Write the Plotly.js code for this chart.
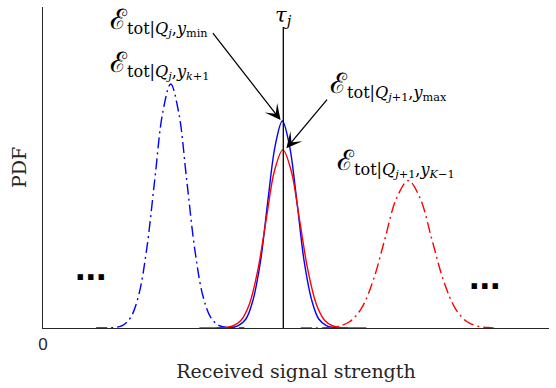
<!DOCTYPE html>
<html>
<head>
<meta charset="utf-8">
<script src="https://cdn.plot.ly/plotly-3.0.1.min.js"></script>
<style>html,body{margin:0;padding:0;background:#fff}#chart{width:556px;height:388px}</style>
</head>
<body>
<div id="chart"></div>
<script>
// Blue dash-dot curve (E_tot|Qj,y_k+1)
const blueDashX = [10.5, 12.6, 14.18, 15.76, 17.34, 18.92, 20.5, 22.08, 23.66, 25.24, 26.82, 28.4, 29.98, 31.56, 33.14, 34.72, 36.3, 37.88, 39.8];
const blueDashY = [0, 0.0003, 0.0017, 0.0084, 0.0334, 0.1028, 0.2468, 0.461, 0.671, 0.760, 0.671, 0.461, 0.2468, 0.1028, 0.0334, 0.0084, 0.0017, 0.0003, 0];
// Blue solid curve (E_tot|Qj,y_min)
const blueX = [34.3, 35.74, 37.2, 38.6, 40.1, 41.5, 43.0, 44.4, 45.9, 47.3, 48.7, 50.2, 51.6, 53.1, 54.5, 56.0, 57.4, 58.9, 60.3];
const blueY = [0, 0.0002, 0.0014, 0.0072, 0.028, 0.087, 0.209, 0.391, 0.569, 0.645, 0.569, 0.391, 0.209, 0.087, 0.028, 0.0072, 0.0014, 0.0002, 0];
// Red solid curve (E_tot|Qj+1,y_max)
const redX = [30.9, 32.55, 34.2, 35.85, 37.5, 39.15, 40.8, 42.45, 44.1, 45.75, 47.4, 49.05, 50.7, 52.35, 54.0, 55.65, 57.3, 58.95, 60.6, 62.25, 63.9];
const redY = [0, 0, 0.0002, 0.0012, 0.0062, 0.0244, 0.0751, 0.180, 0.337, 0.490, 0.555, 0.490, 0.337, 0.180, 0.0751, 0.0244, 0.0062, 0.0012, 0.0002, 0, 0];
// Red dash-dot curve (E_tot|Qj+1,y_K-1)
const redDashX = [50.95, 53.72, 56.03, 58.34, 60.65, 62.96, 65.27, 67.58, 69.89, 72.2, 74.51, 76.82, 79.13, 81.44, 83.75, 86.06, 88.37, 89.76];
const redDashY = [0, 0.0002, 0.0010, 0.0051, 0.0201, 0.0621, 0.149, 0.278, 0.405, 0.459, 0.405, 0.278, 0.149, 0.0621, 0.0201, 0.0051, 0.0010, 0.0004];
// Threshold tau_j
const tauX = 47.49;
const tauTop = 0.938;
// Tick labels / texts
const xTickVals = [0];
const xTickText = ['0'];
const xLabel = 'Received signal strength';
const yLabel = 'PDF';
const E = '<span style="font-size:28px">\u2130</span>';
const labels = [
  {text: E + '<sub>tot|<i>Q<sub>j</sub></i>,<i>y</i><sub>min</sub></sub>', x: 12.85, y: 0.955},
  {text: E + '<sub>tot|<i>Q<sub>j</sub></i>,<i>y</i><sub><i>k</i>+1</sub></sub>', x: 12.85, y: 0.822},
  {text: E + '<sub>tot|<i>Q<sub>j</sub></i><sub>+1</sub>,<i>y</i><sub>max</sub></sub>', x: 56.3, y: 0.757},
  {text: E + '<sub>tot|<i>Q<sub>j</sub></i><sub>+1</sub>,<i>y</i><sub><i>K</i>\u22121</sub></sub>', x: 57.7, y: 0.517}
];
// arrows: [tailX, tailY, tipX, tipY]
const arrows = [[33.34, 0.923, 46.95, 0.648], [56.38, 0.716, 48.1, 0.56]];

const dashDot = '11px,4px,2px,4px';
const traces = [
  {x: blueDashX, y: blueDashY, mode: 'lines', line: {color: '#0000ff', width: 1.4, dash: dashDot, shape: 'spline'}},
  {x: blueX, y: blueY, mode: 'lines', line: {color: '#0000ff', width: 1.4, shape: 'spline'}},
  {x: redX, y: redY, mode: 'lines', line: {color: '#ff0000', width: 1.4, shape: 'spline'}},
  {x: redDashX, y: redDashY, mode: 'lines', line: {color: '#ff0000', width: 1.4, dash: dashDot, shape: 'spline'}},
  {x: [tauX, tauX], y: [0, tauTop], mode: 'lines', line: {color: '#000000', width: 1.3}}
];

const serif = 'DejaVu Serif, Liberation Serif, serif';
const ann = [];
labels.forEach(l => ann.push({x: l.x, y: l.y, xref: 'x', yref: 'y', text: l.text, showarrow: false,
  xanchor: 'left', yanchor: 'middle', font: {family: serif, size: 23, color: '#000'}}));
arrows.forEach(a => ann.push({x: a[2], y: a[3], ax: a[0], ay: a[1], xref: 'x', yref: 'y', axref: 'x', ayref: 'y',
  text: '', showarrow: true, arrowhead: 3, arrowsize: 2, arrowwidth: 1.3, arrowcolor: '#000'}));
ann.push({x: tauX, y: 0.972, xref: 'x', yref: 'y', text: '<i>\u03C4<sub>j</sub></i>', showarrow: false,
  xanchor: 'center', yanchor: 'middle', font: {family: serif, size: 21, color: '#000'}});
ann.push({x: 9.4, y: 0.19, xref: 'x', yref: 'y', text: '<b>...</b>', showarrow: false,
  xanchor: 'center', yanchor: 'middle', font: {family: 'Liberation Sans, Arial, sans-serif', size: 38, color: '#000'}});
ann.push({x: 87.4, y: 0.161, xref: 'x', yref: 'y', text: '<b>...</b>', showarrow: false,
  xanchor: 'center', yanchor: 'middle', font: {family: 'Liberation Sans, Arial, sans-serif', size: 38, color: '#000'}});

const layout = {
  width: 556, height: 388,
  margin: {l: 43, r: 7, t: 7, b: 60},
  paper_bgcolor: '#fff', plot_bgcolor: '#fff',
  showlegend: false,
  xaxis: {range: [0, 100], showgrid: false, zeroline: false, showline: true, linecolor: '#262626', linewidth: 1.2,
    ticks: '', tickvals: xTickVals, ticktext: xTickText, tickfont: {family: 'Liberation Sans, Arial, sans-serif', size: 17, color: '#262626'},
    title: {text: xLabel, font: {family: serif, size: 19, color: '#262626'}, standoff: 12}},
  yaxis: {range: [0, 1], showgrid: false, zeroline: false, showline: true, linecolor: '#262626', linewidth: 1.2,
    ticks: '', showticklabels: false,
    title: {text: yLabel, font: {family: serif, size: 19, color: '#262626'}, standoff: 10}},
  annotations: ann
};
Plotly.newPlot('chart', traces, layout, {staticPlot: true, displayModeBar: false});
</script>
</body>
</html>
